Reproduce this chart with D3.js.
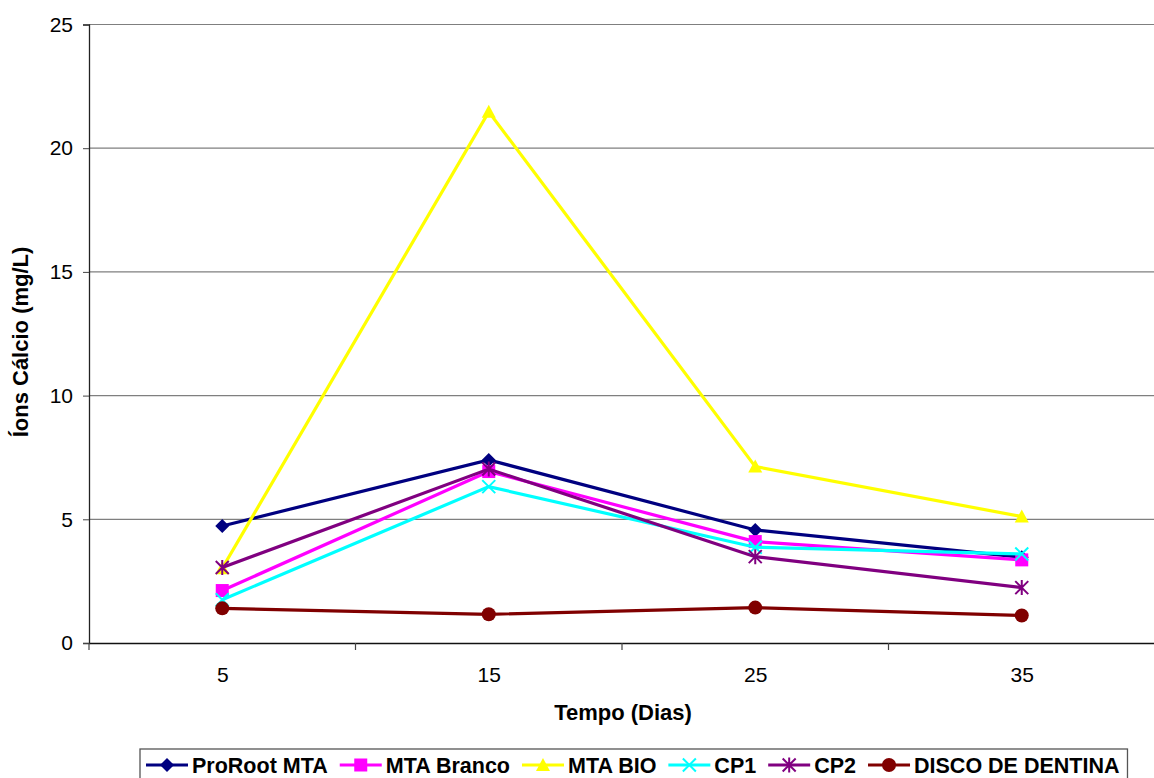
<!DOCTYPE html>
<html>
<head>
<meta charset="utf-8">
<script src="https://cdn.jsdelivr.net/npm/d3@7/dist/d3.min.js"></script>
<style>
  html, body { margin: 0; padding: 0; background: #fff; }
  svg { display: block; font-family: "Liberation Sans", Arial, sans-serif; }
</style>
</head>
<body>
<svg id="chart" width="1154" height="778"></svg>
<script>
const categories = ["5", "15", "25", "35"];
const seriesNames = ["ProRoot MTA", "MTA Branco", "MTA BIO", "CP1", "CP2", "DISCO DE DENTINA"];
const proRootMTA = [4.73, 7.40, 4.57, 3.47];
const mtaBranco  = [2.12, 6.93, 4.10, 3.36];
const mtaBio     = [3.02, 21.47, 7.13, 5.11];
const cp1        = [1.75, 6.32, 3.87, 3.60];
const cp2        = [3.05, 7.03, 3.49, 2.24];
const discoDentina = [1.40, 1.16, 1.43, 1.11];
const yTicks = [0, 5, 10, 15, 20, 25];

const seriesValues = [proRootMTA, mtaBranco, mtaBio, cp1, cp2, discoDentina];
const colors = ["#000080", "#FF00FF", "#FFFF00", "#00FFFF", "#800080", "#800000"];
const markers = ["diamond", "square", "triangle", "x", "star", "circle"];

const svg = d3.select("#chart");
const plotL = 89, plotR = 1155, plotT = 24.5, plotB = 643;

const x = d3.scalePoint().domain(categories).range([plotL, plotR]).padding(0.5);
const xBand = d3.scaleBand().domain(categories).range([plotL, plotR]);
const y = d3.scaleLinear().domain([0, 25]).range([plotB, plotT]);

// gridlines
svg.append("g").selectAll("line").data(yTicks.filter(d => d > 0)).join("line")
  .attr("x1", plotL).attr("x2", 1154)
  .attr("y1", d => y(d)).attr("y2", d => y(d))
  .attr("stroke", "#7f7f7f").attr("stroke-width", 1.2);

// y axis
const yAxis = d3.axisLeft(y).tickValues(yTicks).tickSize(6).tickPadding(10).tickFormat(d3.format("d"));
const gy = svg.append("g").attr("transform", `translate(${plotL},0)`).call(yAxis);
gy.select(".domain").attr("stroke", "#222").attr("stroke-width", 1.3);
gy.selectAll(".tick line").attr("stroke", "#444");
gy.selectAll("text").attr("font-size", 21).attr("fill", "#000")
  .attr("font-family", "Liberation Sans, Arial, sans-serif");

// x axis
const xAxis = d3.axisBottom(x).tickSize(0).tickPadding(24);
const gx = svg.append("g").attr("transform", `translate(0,${plotB})`).call(xAxis);
gx.select(".domain").attr("stroke", "#111").attr("stroke-width", 1.3);
gx.selectAll("text").attr("font-size", 21).attr("fill", "#000")
  .attr("font-family", "Liberation Sans, Arial, sans-serif");
// boundary tick marks
const bounds = categories.map(c => xBand(c)).concat([xBand(categories[categories.length - 1]) + xBand.bandwidth()]);
svg.append("g").selectAll("line").data(bounds).join("line")
  .attr("x1", d => d).attr("x2", d => d)
  .attr("y1", plotB).attr("y2", plotB + 7)
  .attr("stroke", "#444").attr("stroke-width", 1.2);

// axis titles
svg.append("text").attr("x", 623).attr("y", 720).attr("text-anchor", "middle")
  .attr("font-size", 22).attr("font-weight", "bold").text("Tempo (Dias)");
svg.append("text").attr("transform", "translate(28,342) rotate(-90)").attr("text-anchor", "middle")
  .attr("font-size", 22).attr("font-weight", "bold").text("Íons Cálcio (mg/L)");

// marker drawing
function drawMarker(g, type, color, cx, cy) {
  const s = 7;
  if (type === "diamond") {
    g.append("path").attr("d", `M${cx},${cy - s}L${cx + s},${cy}L${cx},${cy + s}L${cx - s},${cy}Z`).attr("fill", color);
  } else if (type === "square") {
    g.append("rect").attr("x", cx - 6.5).attr("y", cy - 6.5).attr("width", 13).attr("height", 13).attr("fill", color);
  } else if (type === "triangle") {
    g.append("path").attr("d", `M${cx},${cy - 7}L${cx + 7},${cy + 6}L${cx - 7},${cy + 6}Z`).attr("fill", color);
  } else if (type === "x") {
    g.append("path").attr("d", `M${cx - 6.5},${cy - 6.5}L${cx + 6.5},${cy + 6.5}M${cx + 6.5},${cy - 6.5}L${cx - 6.5},${cy + 6.5}`)
      .attr("stroke", color).attr("stroke-width", 2).attr("fill", "none");
  } else if (type === "star") {
    g.append("path").attr("d", `M${cx - 6.5},${cy - 6.5}L${cx + 6.5},${cy + 6.5}M${cx + 6.5},${cy - 6.5}L${cx - 6.5},${cy + 6.5}M${cx},${cy - 7.5}L${cx},${cy + 7.5}`)
      .attr("stroke", color).attr("stroke-width", 2).attr("fill", "none");
  } else if (type === "circle") {
    g.append("circle").attr("cx", cx).attr("cy", cy).attr("r", 7).attr("fill", color);
  }
}

// series
const line = d3.line().x((d, i) => x(categories[i])).y(d => y(d));
seriesValues.forEach((vals, si) => {
  const g = svg.append("g");
  g.append("path").datum(vals).attr("d", line).attr("fill", "none")
    .attr("stroke", colors[si]).attr("stroke-width", 3.2).attr("stroke-linejoin", "miter");
  vals.forEach((v, i) => drawMarker(g, markers[si], colors[si], x(categories[i]), y(v)));
});

// legend
const lg = svg.append("g");
const box = lg.append("rect").attr("x", 140).attr("y", 749).attr("height", 40)
  .attr("fill", "#fff").attr("stroke", "#555").attr("stroke-width", 1.3);
let cur = 146;
const lineY = 765, baseY = 773;
seriesNames.forEach((name, si) => {
  lg.append("line").attr("x1", cur).attr("x2", cur + 42).attr("y1", lineY).attr("y2", lineY)
    .attr("stroke", colors[si]).attr("stroke-width", 3.2);
  drawMarker(lg, markers[si], colors[si], cur + 21, lineY);
  const t = lg.append("text").attr("x", cur + 46).attr("y", baseY)
    .attr("font-size", 21.5).attr("font-weight", "bold").attr("fill", "#000").text(name);
  cur = cur + 46 + t.node().getComputedTextLength() + 12;
});
box.attr("width", cur - 4 - 140);
</script>
</body>
</html>
